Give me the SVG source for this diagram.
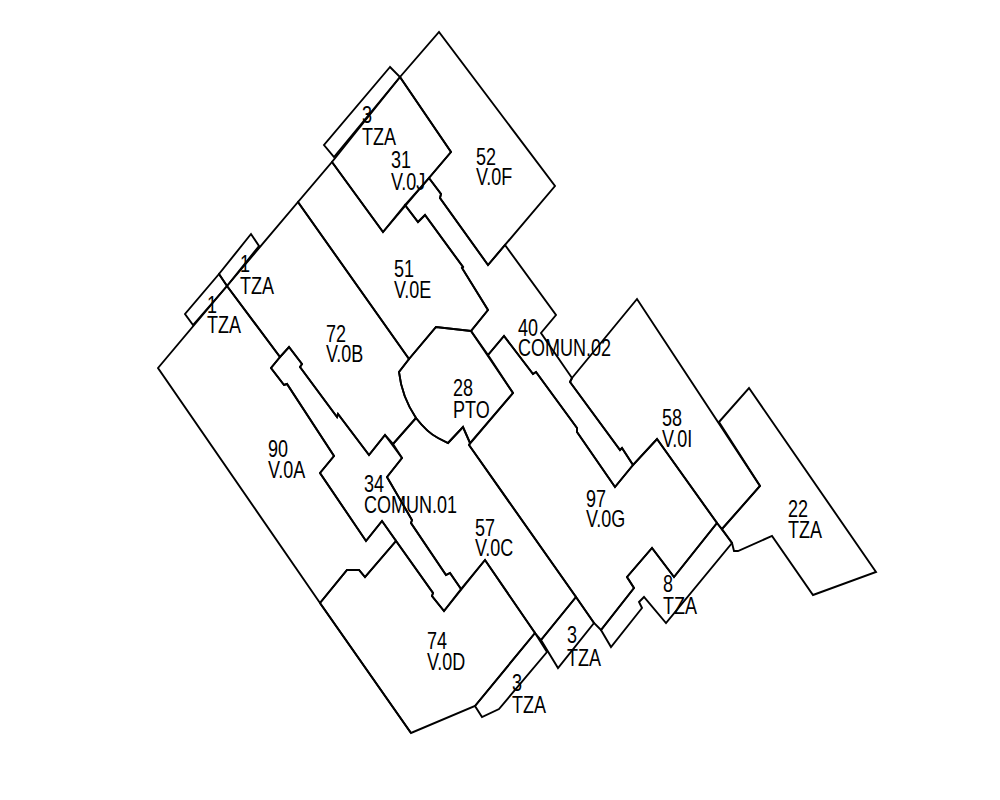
<svg xmlns="http://www.w3.org/2000/svg" width="1000" height="800" viewBox="0 0 1000 800">
<style>
.r{fill:none;stroke:#000;stroke-width:1.9;stroke-linejoin:miter}
text{font-family:"Liberation Sans",Arial,sans-serif;font-size:24px;fill:#000}
</style>
<rect width="1000" height="800" fill="#fff"/>
<g id="room-90"><polygon class="r" points="158,368 227,286 280,357 271,368 284,385 287,384 334,456 320,473 366,541 382,521 396,541 365,577 359,570 347,570 320,603 411,733 320,603"/><text transform="translate(268,457) scale(.75,1)">90</text><text transform="translate(268,478) scale(.75,1)">V.0A</text></g>
<g id="room-72"><path class="r" d="M227,286L298,202L409,359L399,372C401,390 408,406 416,418L393,444L385,435L369,455L338,414L337,417L300,367L302,364L289,347L280,357Z"/><text transform="translate(326,342) scale(.75,1)">72</text><text transform="translate(326,362) scale(.75,1)">V.0B</text></g>
<g id="room-57"><path class="r" d="M416,418C423,427 430,434 438,438L448,443L463,427L470,443L469,445L576,597L541,640L535,633L485,560L461,589L450,573L446,575L411,523L412,520L387,477L402,458L393,444Z"/><text transform="translate(475,536) scale(.75,1)">57</text><text transform="translate(475,556) scale(.75,1)">V.0C</text></g>
<g id="room-74"><polygon class="r" points="320,603 347,570 359,570 365,577 396,541 433,593 432,596 444,611 485,560 535,633 475,706 411,733"/><text transform="translate(427,649) scale(.75,1)">74</text><text transform="translate(427,670) scale(.75,1)">V.0D</text></g>
<g id="room-34"><polygon class="r" points="284,385 271,368 280,357 289,347 302,364 300,367 337,417 338,414 369,455 385,435 402,458 387,477 412,520 411,523 446,575 450,573 461,589 444,611 432,596 433,593 382,521 366,541 320,473 334,456 287,384"/><text transform="translate(364,492) scale(.75,1)">34</text><text transform="translate(364,513) scale(.75,1)">COMUN.01</text></g>
<g id="room-28"><path class="r" d="M409,359L436,327L471,331L513,393L470,443L463,427L448,443L438,438C430,434 423,427 416,418C408,406 401,390 399,372Z"/><text transform="translate(453,396) scale(.75,1)">28</text><text transform="translate(453,418) scale(.75,1)">PTO</text></g>
<g id="room-51"><polygon class="r" points="332,162 383,232 405,205 418,222 425,215 463,267 462,268 488,310 471,331 436,327 409,359 298,202"/><text transform="translate(394,277) scale(.75,1)">51</text><text transform="translate(394,298) scale(.75,1)">V.0E</text></g>
<g id="room-52"><polygon class="r" points="400,77 439,32 555,186 488,265 440,198 441,194 429,178 451,152"/><text transform="translate(476,165) scale(.75,1)">52</text><text transform="translate(476,185) scale(.75,1)">V.0F</text></g>
<g id="room-31"><polygon class="r" points="400,77 451,152 383,232 332,162"/><text transform="translate(391,168) scale(.75,1)">31</text><text transform="translate(391,190) scale(.75,1)">V.0J</text></g>
<g id="room-3a"><polygon class="r" points="390,67 324,145 334,157 400,77"/><text transform="translate(362,123) scale(.75,1)">3</text><text transform="translate(362,145) scale(.75,1)">TZA</text></g>
<g id="room-1a"><polygon class="r" points="251,234 219,274 227,286 259,246"/><text transform="translate(240,272) scale(.75,1)">1</text><text transform="translate(240,294) scale(.75,1)">TZA</text></g>
<g id="room-1b"><polygon class="r" points="219,274 185,314 193,325 227,286"/><text transform="translate(207,313) scale(.75,1)">1</text><text transform="translate(207,333) scale(.75,1)">TZA</text></g>
<g id="room-40"><polygon class="r" points="429,178 441,194 440,198 488,265 505,245 556,315 541,333 572,378 570,382 620,450 622,448 633,465 615,487 577,432 577,428 536,372 533,374 504,336 488,355 471,331 488,310 462,268 463,267 425,215 418,222 405,205"/><text transform="translate(518,336) scale(.75,1)">40</text><text transform="translate(518,356) scale(.75,1)">COMUN.02</text></g>
<g id="room-97"><polygon class="r" points="469,445 576,597 594,623 601,630 634,588 627,577 652,548 674,577 717,523 657,439 633,465 615,487 577,432 577,428 536,372 533,374 504,336 488,355 513,393"/><text transform="translate(586,507) scale(.75,1)">97</text><text transform="translate(586,527) scale(.75,1)">V.0G</text></g>
<g id="room-58"><polygon class="r" points="572,378 637,299 760,486 722,529 717,523 657,439 633,465 622,448 620,450 570,382"/><text transform="translate(662,426) scale(.75,1)">58</text><text transform="translate(662,447) scale(.75,1)">V.0I</text></g>
<g id="room-22"><polygon class="r" points="719,422 749,388 876,572 813,595 772,536 738,551 734,551 732,543 722,529 760,486"/><text transform="translate(788,517) scale(.75,1)">22</text><text transform="translate(788,538) scale(.75,1)">TZA</text></g>
<g id="room-8"><polygon class="r" points="717,523 732,543 666,623 644,597 639,602 642,608 611,647 601,630 634,588 627,577 652,548 674,577"/><text transform="translate(663,592) scale(.75,1)">8</text><text transform="translate(663,614) scale(.75,1)">TZA</text></g>
<g id="room-3b"><polygon class="r" points="576,597 594,623 558,668 541,640"/><text transform="translate(567,643) scale(.75,1)">3</text><text transform="translate(567,666) scale(.75,1)">TZA</text></g>
<g id="room-3c"><polygon class="r" points="535,633 547,652 499,709 482,717 475,706"/><text transform="translate(512,691) scale(.75,1)">3</text><text transform="translate(512,713) scale(.75,1)">TZA</text></g>
</svg>
